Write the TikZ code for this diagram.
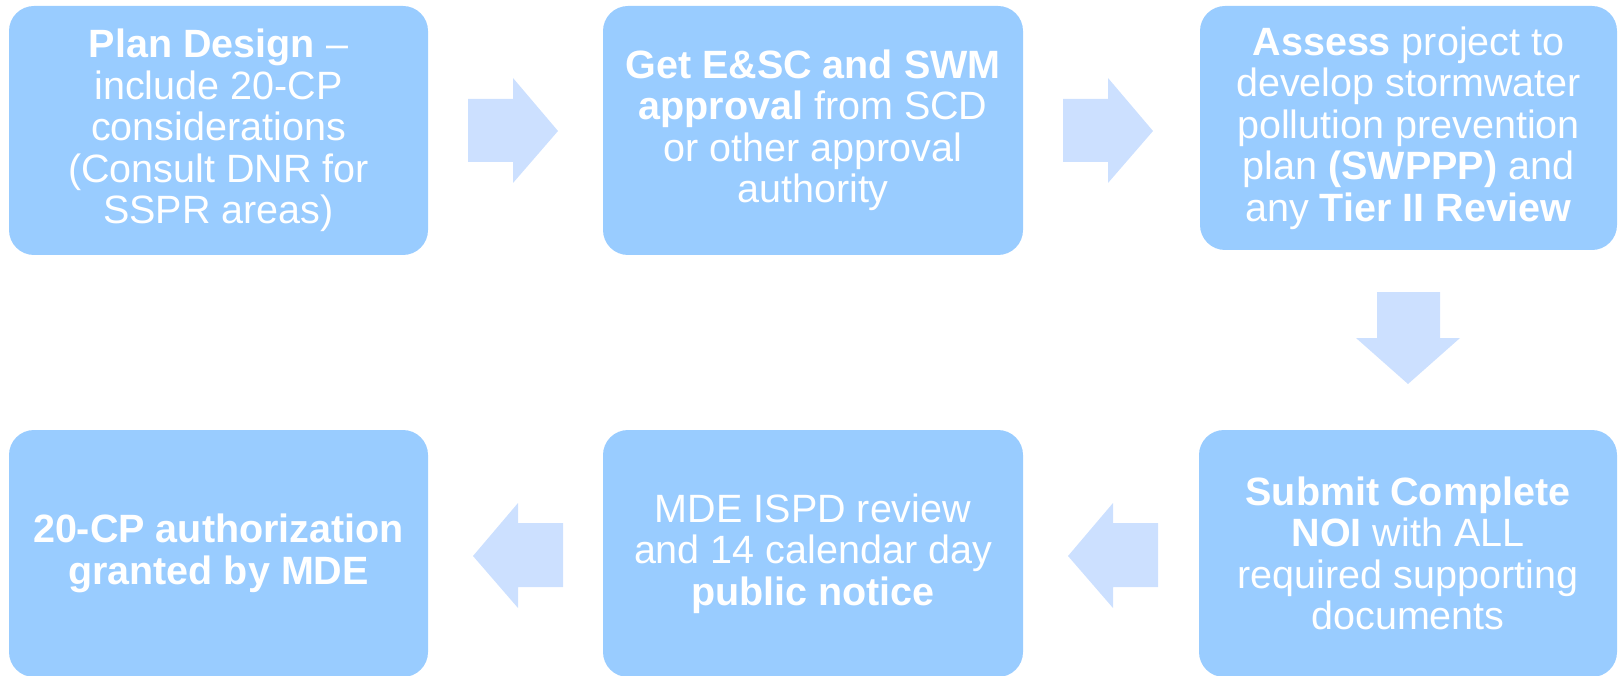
\documentclass[tikz,border=0pt]{standalone}
\usepackage{fontspec}
\setmainfont{Liberation Sans}
\definecolor{boxblue}{RGB}{153,204,255}
\definecolor{arrowblue}{RGB}{204,224,255}
\begin{document}
\begin{tikzpicture}[x=1pt,y=-1pt,
  box/.style={fill=boxblue,draw=none,rounded corners=25pt,text=white,align=center,
    inner sep=0pt,font=\fontsize{39.5}{41.5}\selectfont},
  blockarrow/.style={fill=arrowblue,draw=none}]
\useasboundingbox (0,0) rectangle (1621,676);
\node[box,minimum width=419pt,minimum height=249pt] (b1) at (218.5,130.5)
  {\textbf{Plan Design} --\\include 20-CP\\considerations\\(Consult DNR for\\SSPR areas)};
\node[box,minimum width=420pt,minimum height=249pt] (b2) at (813,130.5)
  {\textbf{Get E\&SC and SWM}\\\textbf{approval} from SCD\\or other approval\\authority};
\node[box,minimum width=417pt,minimum height=244pt] (b3) at (1408.5,128)
  {\textbf{Assess} project to\\develop stormwater\\pollution prevention\\plan \textbf{(SWPPP)} and\\any \textbf{Tier II Review}};
\node[box,minimum width=419pt,minimum height=247pt] (b4) at (218.5,553.5)
  {\textbf{20-CP authorization}\\\textbf{granted by MDE}};
\node[box,minimum width=420pt,minimum height=247pt] (b5) at (813,553.5)
  {MDE ISPD review\\and 14 calendar day\\\textbf{public notice}};
\node[box,minimum width=418pt,minimum height=247pt] (b6) at (1408,553.5)
  {\textbf{Submit Complete}\\\textbf{NOI} with ALL\\required supporting\\documents};
% right arrows
\fill[blockarrow] (468,99) -- (513,99) -- (513,78) -- (558,131) -- (513,183) -- (513,162) -- (468,162) -- cycle;
\fill[blockarrow] (1063,99) -- (1108,99) -- (1108,78) -- (1153,131) -- (1108,183) -- (1108,162) -- (1063,162) -- cycle;
% down arrow
\fill[blockarrow] (1377,292) -- (1440,292) -- (1440,338) -- (1460,338) -- (1408,384) -- (1356,338) -- (1377,338) -- cycle;
% left arrows
\fill[blockarrow] (563,523) -- (518,523) -- (518,503) -- (473,556) -- (518,608) -- (518,587) -- (563,587) -- cycle;
\fill[blockarrow] (1158,523) -- (1113,523) -- (1113,503) -- (1068,556) -- (1113,608) -- (1113,587) -- (1158,587) -- cycle;
\end{tikzpicture}
\end{document}
